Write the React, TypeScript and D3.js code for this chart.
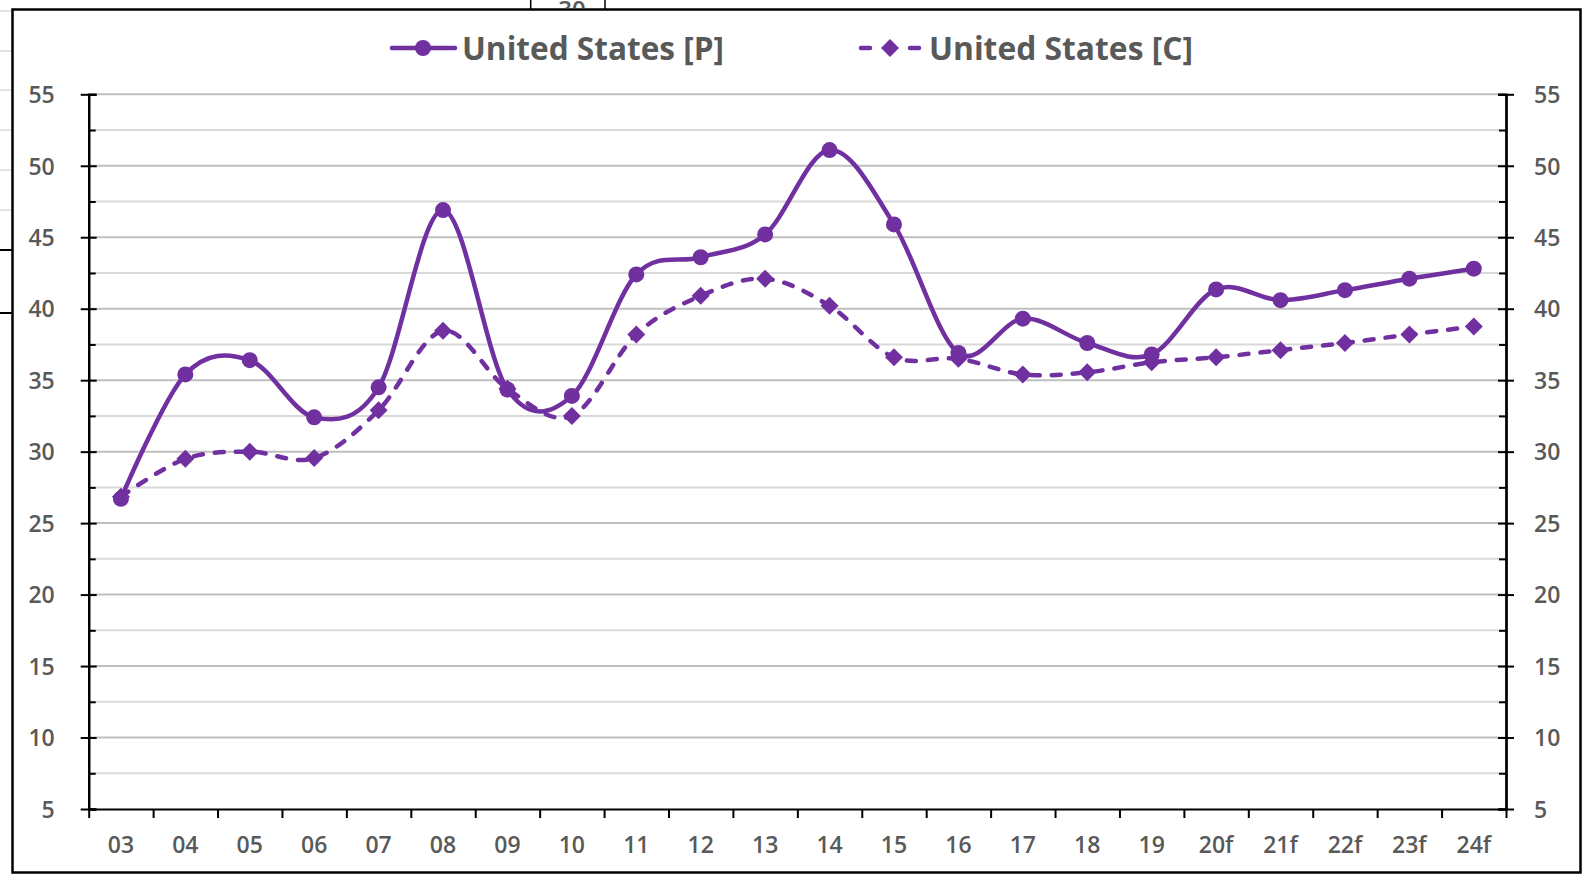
import React, { useRef, useEffect } from 'react';
import * as d3 from 'd3';

const years = ['03', '04', '05', '06', '07', '08', '09', '10', '11', '12', '13', '14', '15', '16', '17', '18', '19', '20f', '21f', '22f', '23f', '24f'];
const seriesP = [26.7, 35.4, 36.4, 32.4, 34.5, 46.9, 34.35, 33.9, 42.4, 43.6, 45.2, 51.1, 45.9, 36.9, 39.3, 37.6, 36.8, 41.35, 40.6, 41.3, 42.1, 42.8];
const seriesC = [26.85, 29.5, 30.0, 29.55, 32.9, 38.45, 34.4, 32.5, 38.2, 40.9, 42.1, 40.2, 36.6, 36.5, 35.4, 35.55, 36.25, 36.6, 37.1, 37.6, 38.2, 38.75];
const majorTicks = [5, 10, 15, 20, 25, 30, 35, 40, 45, 50, 55];
const minorTicks = [7.5, 12.5, 17.5, 22.5, 27.5, 32.5, 37.5, 42.5, 47.5, 52.5];
const legendNames = ['United States [P]', 'United States [C]'];

const PURPLE = '#7030A0';
const TEXT = '#595959';
const FONT = '"Open Sans", "Noto Sans", sans-serif';

const App = () => {
    const svgRef = useRef(null);

    useEffect(() => {
        const root = d3.select(svgRef.current);
        root.selectAll('*').remove();

        const W = 1588, H = 880;
        const left = 88.7, right = 1506, top = 94.3, bottom = 809;

        root.attr('width', W).attr('height', H);

        // stray pieces of the neighbouring chart behind this one
        const stray = root.append('g');
        [11, 51, 90, 130, 170, 210].forEach(y => {
            stray.append('line').attr('x1', 0).attr('x2', 12).attr('y1', y).attr('y2', y)
                .attr('stroke', '#d9d9d9').attr('stroke-width', 1.5);
        });
        [250, 313].forEach(y => {
            stray.append('line').attr('x1', 0).attr('x2', 12).attr('y1', y).attr('y2', y)
                .attr('stroke', '#000').attr('stroke-width', 2);
        });
        [530.7, 605].forEach(x => {
            stray.append('line').attr('x1', x).attr('x2', x).attr('y1', 0).attr('y2', 10)
                .attr('stroke', '#000').attr('stroke-width', 1.5);
        });
        root.append('clipPath').attr('id', 'strayClip')
            .append('rect').attr('x', 531).attr('y', 0).attr('width', 74).attr('height', 8);
        stray.append('text').attr('x', 572).attr('y', 18).attr('text-anchor', 'middle')
            .attr('clip-path', 'url(#strayClip)')
            .style('font-family', FONT).style('font-weight', 600).style('font-size', '24px').style('fill', TEXT).text('30');

        // chart frame
        root.append('rect').attr('x', 12.5).attr('y', 9.5).attr('width', 1568).attr('height', 863)
            .attr('fill', '#fff').attr('stroke', '#000').attr('stroke-width', 2.5);

        const x = d3.scaleBand().domain(years).range([left, right]).padding(0);
        const xEdge = d3.scaleLinear().domain([0, years.length]).range([left, right]);
        const y = d3.scaleLinear().domain([5, 55]).range([bottom, top]);
        const cx = d => x(d) + x.bandwidth() / 2;

        // gridlines
        const grid = root.append('g');
        grid.selectAll('line.minor').data(minorTicks).enter().append('line')
            .attr('x1', left).attr('x2', right).attr('y1', d => y(d)).attr('y2', d => y(d))
            .attr('stroke', '#d9d9d9').attr('stroke-width', 2);
        grid.selectAll('line.major').data(majorTicks.slice(1)).enter().append('line')
            .attr('x1', left).attr('x2', right).attr('y1', d => y(d)).attr('y2', d => y(d))
            .attr('stroke', '#bfbfbf').attr('stroke-width', 2);

        const styleAxis = g => {
            g.select('.domain').attr('stroke', '#000').attr('stroke-width', 2);
            g.selectAll('.tick line').attr('stroke', '#000').attr('stroke-width', 2);
            g.selectAll('text').style('font-family', FONT).style('font-weight', 600)
                .style('font-size', '23px').style('fill', TEXT);
        };

        // left axis: major ticks cross the axis, minor ticks point inward
        const yl = root.append('g').attr('transform', `translate(${left},0)`);
        yl.append('g').call(d3.axisLeft(y).tickValues(majorTicks).tickSize(8).tickSizeOuter(0).tickPadding(26))
            .call(styleAxis);
        yl.append('g').call(d3.axisRight(y).tickValues(majorTicks).tickSize(8).tickFormat(() => ''))
            .call(styleAxis);
        yl.append('g').call(d3.axisRight(y).tickValues(minorTicks).tickSize(7).tickFormat(() => ''))
            .call(styleAxis);

        const yr = root.append('g').attr('transform', `translate(${right},0)`);
        yr.append('g').call(d3.axisRight(y).tickValues(majorTicks).tickSize(8).tickSizeOuter(0).tickPadding(20))
            .call(styleAxis);
        yr.append('g').call(d3.axisLeft(y).tickValues(majorTicks).tickSize(8).tickFormat(() => ''))
            .call(styleAxis);
        yr.append('g').call(d3.axisLeft(y).tickValues(minorTicks).tickSize(7).tickFormat(() => ''))
            .call(styleAxis);
        root.selectAll('.tick text').attr('dy', '0.36em');

        // bottom axis: ticks between categories, labels centred in each band
        const xb = root.append('g').attr('transform', `translate(0,${bottom})`);
        xb.append('g').call(d3.axisBottom(xEdge).tickValues(d3.range(years.length + 1)).tickSize(9).tickSizeOuter(0).tickFormat(() => ''))
            .call(styleAxis);
        xb.append('g').call(d3.axisBottom(x).tickSize(0).tickPadding(28))
            .call(styleAxis)
            .call(g => g.select('.domain').remove());

        // series
        const line = d3.line().x((d, i) => cx(years[i])).y(d => y(d)).curve(d3.curveCardinal.tension(0));

        root.append('path').datum(seriesC)
            .attr('fill', 'none').attr('stroke', PURPLE).attr('stroke-width', 4.5)
            .attr('stroke-dasharray', '9,12').attr('stroke-linecap', 'round').attr('d', line);
        root.append('path').datum(seriesP)
            .attr('fill', 'none').attr('stroke', PURPLE).attr('stroke-width', 4.5)
            .attr('stroke-linejoin', 'round').attr('d', line);

        const diamond = (px, py, r) => `M${px},${py - r}L${px + r},${py}L${px},${py + r}L${px - r},${py}Z`;
        root.selectAll('path.dm').data(seriesC).enter().append('path')
            .attr('d', (d, i) => diamond(cx(years[i]), y(d), 9)).attr('fill', PURPLE);
        root.selectAll('circle.pt').data(seriesP).enter().append('circle')
            .attr('cx', (d, i) => cx(years[i])).attr('cy', d => y(d)).attr('r', 8).attr('fill', PURPLE);

        // legend
        const lg = root.append('g');
        lg.append('line').attr('x1', 392).attr('x2', 455).attr('y1', 48).attr('y2', 48)
            .attr('stroke', PURPLE).attr('stroke-width', 4.5).attr('stroke-linecap', 'round');
        lg.append('circle').attr('cx', 423).attr('cy', 48).attr('r', 8).attr('fill', PURPLE);
        lg.append('line').attr('x1', 861).attr('x2', 919).attr('y1', 48).attr('y2', 48)
            .attr('stroke', PURPLE).attr('stroke-width', 4.5).attr('stroke-linecap', 'round')
            .attr('stroke-dasharray', '9,40');
        lg.append('path').attr('d', diamond(890, 48, 9)).attr('fill', PURPLE);
        [[462, legendNames[0], 262], [929, legendNames[1], 264]].forEach(([lx, name, len]) => {
            lg.append('text').attr('x', lx).attr('y', 60)
                .attr('textLength', len).attr('lengthAdjust', 'spacingAndGlyphs')
                .style('font-family', FONT).style('font-weight', 'bold').style('font-size', '33px')
                .style('fill', TEXT).text(name);
        });
    }, []);

    return (
        <div style={{ position: 'absolute', left: 0, top: 0, background: '#fff' }}>
            <svg ref={svgRef} style={{ display: 'block' }}></svg>
        </div>
    );
};

export default App;
